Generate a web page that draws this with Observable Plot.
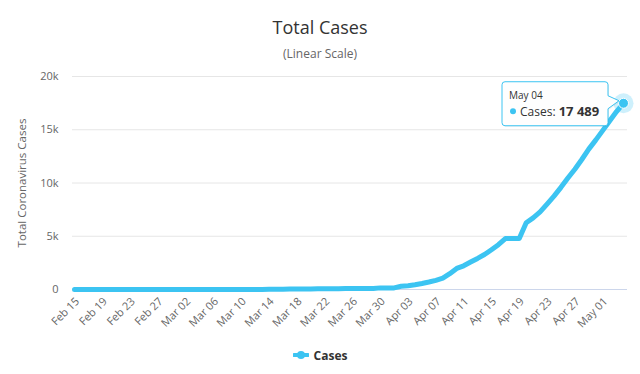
<!DOCTYPE html>
<html>
<head>
<meta charset="utf-8">
<script src="https://cdn.jsdelivr.net/npm/d3@7"></script>
<script src="https://cdn.jsdelivr.net/npm/@observablehq/plot@0.6"></script>
<style>
  html, body { margin: 0; padding: 0; background: #fff; }
  #wrap { width: 640px; height: 374px; font-family: "Open Sans", sans-serif; position: relative; overflow: hidden; }
  #title { height: 44px; box-sizing: border-box; padding-top: 18px; text-align: center; font-size: 18px; line-height: 18px; color: #333; }
  #subtitle { height: 20px; box-sizing: border-box; padding-top: 4px; text-align: center; font-size: 12px; line-height: 12px; color: #666; }
  #chart { height: 276px; }
  #legend { height: 34px; display: flex; justify-content: center; align-items: center; padding-bottom: 4px; box-sizing: border-box; }
  #legend span { font-size: 12px; font-weight: bold; color: #333; margin-left: 5px; }
</style>
</head>
<body>
<div id="wrap">
  <div id="title">Total Cases</div>
  <div id="subtitle">(Linear Scale)</div>
  <div id="chart"></div>
  <div id="legend"></div>
</div>
<script>
// ---- data ----
const seriesName = "Cases";
const startDate = "2020-02-15";
const cases = [
  0,0,0,0,0,0,0,0,0,0,0,0,0,0,          // Feb 15 - Feb 28
  1,1,1,1,                              // Feb 29 - Mar 03
  6,6,6,6,6,6,6,6,6,6,                  // Mar 04 - Mar 13
  27,27,27,36,36,51,51,69,76,76,81,86,86,94,94,94, // Mar 14 - Mar 29
  152,152,152,                          // Mar 30 - Apr 01
  304,351,440,562,700,861,1066,1486,1981,2226,2578,2919,3281,3728,4204, // Apr 02 - Apr 16
  4779,4779,4779,                       // Apr 17 - Apr 19
  6264,6723,7281,8022,8773,9590,10463,11289,12208,13181,14027, // Apr 20 - Apr 30
  14917,15828,16705,17489               // May 01 - May 04
];
const xTickLabels = ["Feb 15","Feb 19","Feb 23","Feb 27","Mar 02","Mar 06","Mar 10","Mar 14","Mar 18","Mar 22","Mar 26","Mar 30","Apr 03","Apr 07","Apr 11","Apr 15","Apr 19","Apr 23","Apr 27","May 01"];
const yTicks = [0, 5000, 10000, 15000, 20000];
const yTickLabels = ["0", "5k", "10k", "15k", "20k"];
const yTitle = "Total Coronavirus Cases";
const tipDate = "May 04";
const tipValue = "17 489";

(function () {
const color = "#3cc4f2";
const start = d3.utcParse("%Y-%m-%d")(startDate);
const data = cases.map((c, i) => ({date: d3.utcDay.offset(start, i), cases: c}));
const last = data[data.length - 1];
const parseLabel = d3.utcParse("%Y %b %d");
const tickDates = xTickLabels.map(l => parseLabel("2020 " + l));

const plot = Plot.plot({
  width: 640,
  height: 276,
  marginTop: 12,
  marginBottom: 51,
  marginLeft: 72,
  marginRight: 13,
  style: {fontFamily: "Open Sans, sans-serif", fontSize: "11px", color: "#666", background: "transparent", overflow: "visible"},
  x: {type: "utc", domain: [data[0].date, last.date], insetLeft: 2, insetRight: 4},
  y: {domain: [0, 20000]},
  marks: [
    Plot.gridY(yTicks.slice(1), {stroke: "#e6e6e6", strokeOpacity: 1}),
    Plot.ruleY([0], {stroke: "#ccd6eb", strokeWidth: 1}),
    Plot.axisY(yTicks, {tickSize: 0, tickPadding: 14, tickFormat: d => yTickLabels[yTicks.indexOf(d)], label: null}),
    Plot.axisX(tickDates, {tickSize: 0, tickPadding: 10, tickRotate: -45, tickFormat: d => xTickLabels[tickDates.findIndex(t => +t === +d)], label: null, dx: 3}),
    Plot.text([yTitle], {text: d => d, frameAnchor: "left", textAnchor: "middle", dx: -50, rotate: -90, fill: "#666", fontSize: 11.5}),
    Plot.lineY(data, {x: "date", y: "cases", stroke: color, strokeWidth: 5, strokeLinejoin: "round", strokeLinecap: "round"}),
    Plot.dot([last], {x: "date", y: "cases", r: 10, fill: color, fillOpacity: 0.25}),
    Plot.dot([last], {x: "date", y: "cases", r: 5, fill: color, stroke: "#fff", strokeWidth: 1})
  ]
});
document.getElementById("chart").appendChild(plot);

// tooltip positioned from the library's scales
const px = plot.scale("x").apply(last.date);
const py = plot.scale("y").apply(last.cases);
const bx0 = px - 121, by0 = py - 21, bx1 = px - 15, by1 = py + 23;
const svg = d3.select(plot);
const g = svg.append("g").attr("class", "tooltip").attr("text-anchor", "start");
const r = 3;
const path = `M${bx0 + r},${by0} H${bx1 - r} Q${bx1},${by0} ${bx1},${by0 + r} V${py - 7} L${px - 4},${py - 2} L${bx1},${py + 6} V${by1 - r} Q${bx1},${by1} ${bx1 - r},${by1} H${bx0 + r} Q${bx0},${by1} ${bx0},${by1 - r} V${by0 + r} Q${bx0},${by0} ${bx0 + r},${by0} Z`;
g.append("path").attr("d", path).attr("fill", "rgba(0,0,0,0.06)").attr("transform", "translate(1,1)");
g.append("path").attr("d", path).attr("fill", "#fefefe").attr("stroke", color).attr("stroke-width", 1);
g.append("text").attr("x", bx0 + 7).attr("y", by0 + 17.5).attr("font-size", 10).attr("fill", "#333").text(tipDate);
g.append("circle").attr("cx", bx0 + 11).attr("cy", by0 + 29.5).attr("r", 3).attr("fill", color);
const t2 = g.append("text").attr("x", bx0 + 18).attr("y", by0 + 34).attr("fill", "#333");
t2.append("tspan").attr("font-size", 12).text(seriesName + ": ");
t2.append("tspan").attr("font-size", 13).attr("font-weight", "bold").text(tipValue);

// legend
const legend = d3.select("#legend");
const ls = legend.append("svg").attr("width", 16).attr("height", 12);
ls.append("line").attr("x1", 1).attr("x2", 15).attr("y1", 6).attr("y2", 6).attr("stroke", color).attr("stroke-width", 4).attr("stroke-linecap", "round");
ls.append("circle").attr("cx", 8).attr("cy", 6).attr("r", 4).attr("fill", color);
legend.append("span").text(seriesName);
})();
</script>
</body>
</html>
